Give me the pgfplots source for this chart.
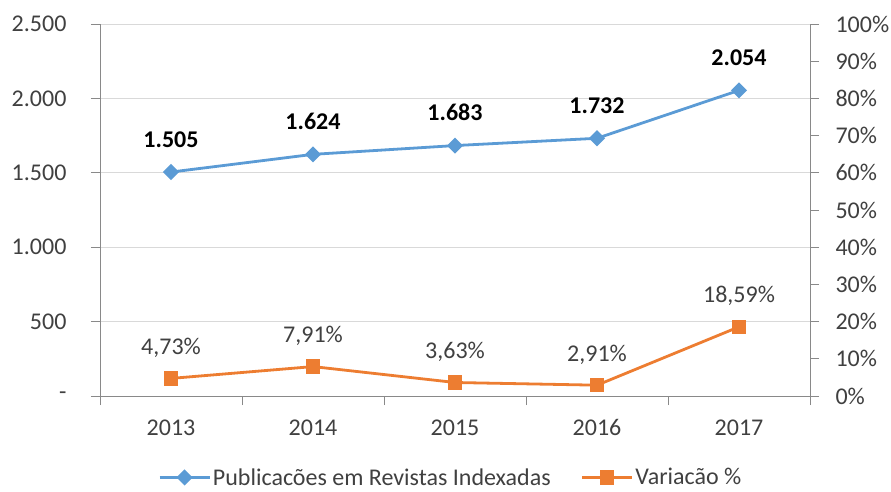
\documentclass[border=0pt]{standalone}
\usepackage{pgfplots}
\pgfplotsset{compat=1.18}
\usepackage{fontspec}
\setmainfont{Carlito}
\definecolor{cblue}{HTML}{5B9BD5}
\definecolor{corange}{HTML}{ED7D31}
\definecolor{axgray}{HTML}{898989}
\definecolor{gridgray}{HTML}{D9D9D9}
\definecolor{txt}{HTML}{404040}
\begin{document}
\begin{tikzpicture}[x=1pt,y=1pt]
\useasboundingbox (0,0) rectangle (891,491);
\pgfplotsset{
  base/.style={scale only axis, width=710pt, height=372pt,
    at={(100pt,95pt)}, anchor=south west,
    xmin=-0.5, xmax=4.5, clip=false,
    font=\fontsize{24}{28}\selectfont,
    tick label style={font=\fontsize{24}{28}\selectfont, text=txt},
    /pgf/number format/assume math mode=true,
    tick align=outside, major tick length=9pt,
    axis line style={axgray, line width=0.8pt},
    every tick/.style={axgray, line width=0.8pt},
  }
}
\begin{axis}[base,
  ymin=0, ymax=2500, ytick={0,500,...,2500},
  yticklabels={-,500,1.000,1.500,2.000,2.500},
  axis y line*=left, axis x line*=bottom,
  ymajorgrids, grid style={gridgray, line width=0.8pt},
  xtick={-0.5,0.5,1.5,2.5,3.5,4.5}, xticklabels={},
  extra x ticks={0,1,2,3,4},
  extra x tick labels={2013,2014,2015,2016,2017},
  extra x tick style={major tick length=0pt, grid=none},
  xticklabel style={anchor=base, yshift=-39pt},
  yticklabel style={xshift=-21pt},
  nodes near coords={\pgfmathprintnumber[fixed,precision=0,1000 sep={.}]{\pgfplotspointmeta}},
  every node near coord/.append style={anchor=base, inner sep=0pt, yshift=25pt, font=\fontsize{24}{28}\selectfont\bfseries, text=black},
]
\addplot[cblue, line width=2.8pt, mark=square*, mark size=4.3pt, mark options={rotate=45}]
  coordinates {(0,1505) (1,1624) (2,1683) (3,1732) (4,2054)};
\end{axis}
\begin{axis}[base,
  ymin=0, ymax=100, ytick={0,10,...,100},
  yticklabels={0\%,10\%,20\%,30\%,40\%,50\%,60\%,70\%,80\%,90\%,100\%},
  axis y line*=right, axis x line=none,
  yticklabel style={xshift=13pt},
  nodes near coords={\pgfmathprintnumber[fixed,fixed zerofill,precision=2,use comma]{\pgfplotspointmeta}\%},
  every node near coord/.append style={anchor=base, inner sep=0pt, yshift=24pt, font=\fontsize{24}{28}\selectfont, text=txt},
  legend style={at={(0.494,-0.219)}, anchor=center, draw=none, fill=none,
    legend columns=2, font=\fontsize{24}{28}\selectfont, text=txt,
    /tikz/every even column/.append style={column sep=28pt}},
  legend image code/.code={\draw[mark repeat=2,mark phase=2,#1] plot coordinates {(0pt,0pt)(25pt,0pt)(50pt,0pt)};},
]
\addlegendimage{cblue, line width=2.8pt, mark=square*, mark size=4.3pt, mark options={rotate=45}}
\addlegendentry{Publicacões em Revistas Indexadas}
\addplot[corange, line width=2.8pt, mark=square*, mark size=5.8pt]
  coordinates {(0,4.73) (1,7.91) (2,3.63) (3,2.91) (4,18.59)};
\addlegendentry{Variacão \%}
\end{axis}
\end{tikzpicture}
\end{document}
